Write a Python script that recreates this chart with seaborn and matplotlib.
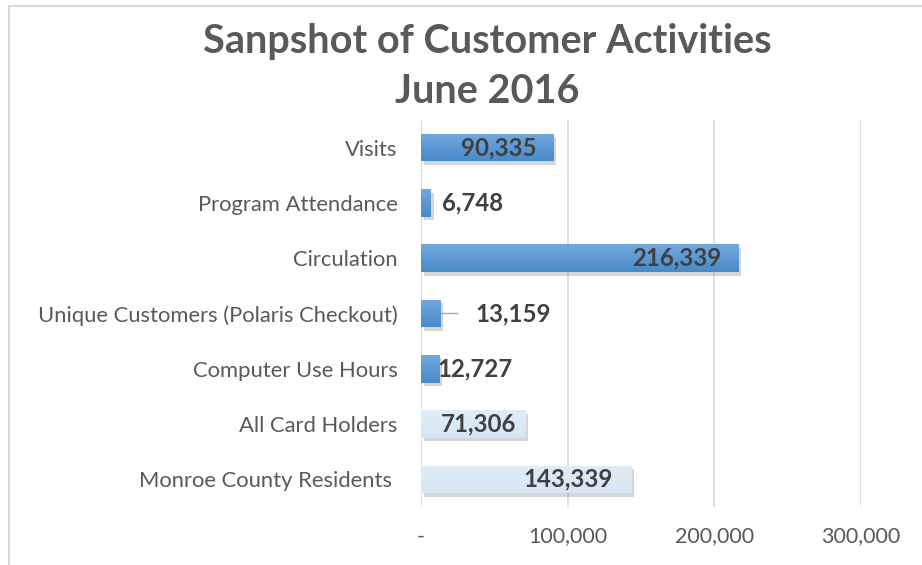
import matplotlib
matplotlib.use("Agg")
import matplotlib.pyplot as plt
import matplotlib.patheffects as pe
from matplotlib.patches import Rectangle
import numpy as np
import seaborn as sns

categories = ["Visits", "Program Attendance", "Circulation",
              "Unique Customers (Polaris Checkout)", "Computer Use Hours",
              "All Card Holders", "Monroe County Residents "]
values = [90335, 6748, 216339, 13159, 12727, 71306, 143339]
value_labels = ["90,335", "6,748", "216,339", "13,159", "12,727", "71,306", "143,339"]
xticks = [0, 100000, 200000, 300000]
xtick_labels = ["-", "100,000", "200,000", "300,000"]
title_lines = ["Sanpshot of Customer Activities", "June 2016"]

blue = "#5B9BD5"
light = "#DDEBF7"
colors = [blue] * 5 + [light] * 2

sns.set_theme(style="white")
plt.rcParams["font.family"] = ["Lato", "DejaVu Sans"]

fig = plt.figure(figsize=(9.22, 5.65), dpi=100)
ax = fig.add_axes([421 / 922, 1 - 507 / 565, 440 / 922, 387 / 565])

sns.barplot(x=values, y=categories, hue=categories, palette=colors,
            legend=False, width=0.5, ax=ax, orient="h", zorder=3,
            edgecolor="none", saturation=1)

# gradient fill + soft shadow on each bar
for i, p in enumerate(ax.patches):
    p.set_path_effects([pe.SimplePatchShadow(offset=(2, -2.5), shadow_rgbFace="#8C8C8C", alpha=0.35),
                        pe.Normal()])
    x0, y0 = p.get_x(), p.get_y()
    w, h = p.get_width(), p.get_height()
    if colors[i] == blue:
        c_top, c_bot = np.array([0.45, 0.66, 0.87]), np.array([0.28, 0.54, 0.79])
    else:
        c_top, c_bot = np.array([0.88, 0.93, 0.97]), np.array([0.84, 0.90, 0.96])
    t = np.linspace(0, 1, 64)[:, None]
    grad = (c_top * (1 - t) + c_bot * t)[:, None, :]
    im = ax.imshow(grad, extent=[x0, x0 + w, y0 + h, y0], aspect="auto",
                   zorder=3.5, interpolation="bilinear", origin="upper")
    im.set_clip_path(p)

ax.set_xlim(0, 300000)
ax.set_ylim(len(categories) - 0.5, -0.5)
ax.set_xticks(xticks)
ax.set_xticklabels(xtick_labels)
ax.grid(axis="x", color="#D9D9D9", linewidth=1.2, zorder=0)
ax.grid(axis="y", visible=False)
for s in ax.spines.values():
    s.set_visible(False)
ax.tick_params(axis="x", length=0, pad=14, labelsize=15.5, labelcolor="#595959")
ax.tick_params(axis="y", length=0, pad=17, labelsize=15.8, labelcolor="#595959")
ax.set_xlabel("")
ax.set_ylabel("")

label_kw = dict(fontsize=17.3, fontweight="bold", color="#404040", va="center",
                textcoords="offset points", zorder=5)
placements = [(-12, "right"), (8, "left"), (-12, "right"), (25, "left"),
              (-2, "left"), (-7, "right"), (-13, "right")]
for i, (v, lab) in enumerate(zip(values, value_labels)):
    off, ha = placements[i]
    if i == 3:
        ax.annotate(lab, xy=(v, i), xytext=(off, 0), ha=ha,
                    arrowprops=dict(arrowstyle="-", color="#A6A6A6", lw=1,
                                    shrinkA=10, shrinkB=1),
                    **label_kw)
    else:
        ax.annotate(lab, xy=(v, i), xytext=(off, 0), ha=ha, **label_kw)

title_kw = dict(ha="center", va="center", fontsize=28.5, fontweight="bold",
                color="#595959")
fig.text(487 / 922, 1 - 42 / 565, title_lines[0], **title_kw)
fig.text(487 / 922, 1 - 92 / 565, title_lines[1], **title_kw)

# outer chart border
fig.patches.append(Rectangle((8.5 / 922, -0.1), 1.2, 1 - 6.5 / 565 + 0.1,
                             transform=fig.transFigure, fill=False,
                             edgecolor="#D9D9D9", linewidth=1.5))

fig.savefig("out.png", dpi=100)
